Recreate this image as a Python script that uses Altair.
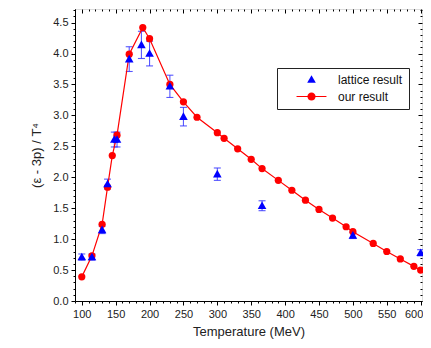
import altair as alt
import pandas as pd

# ---- data ----
red_T = [100, 115, 130, 138, 145, 152, 170, 190, 200, 230, 250, 270, 300, 310, 330,
         350, 366, 390, 410, 430, 450, 470, 490, 500, 530, 550, 570, 590, 600]
red_v = [0.39, 0.73, 1.24, 1.84, 2.35, 2.68, 3.99, 4.42, 4.24, 3.50, 3.22, 2.97, 2.72, 2.63, 2.46,
         2.29, 2.14, 1.95, 1.79, 1.63, 1.48, 1.34, 1.20, 1.12, 0.93, 0.80, 0.68, 0.56, 0.50]

lat_T = [100, 115, 130, 138, 148, 152, 170, 188, 200, 230, 250, 300, 366, 500, 600]
lat_v = [0.71, 0.71, 1.15, 1.89, 2.61, 2.61, 3.91, 4.14, 4.00, 3.47, 2.98, 2.05, 1.54, 1.06, 0.78]
lat_err = [0.05, 0.05, 0.06, 0.08, 0.12, 0.12, 0.20, 0.22, 0.20, 0.18, 0.15, 0.10, 0.08, 0.05, 0.05]

series_names = ["lattice result", "our result"]
series_colors = ["#0000ff", "#ff0000"]

x_ticks = list(range(90, 603, 10))          # minor every 10, labelled every 50
y_ticks = [round(i * 0.1, 1) for i in range(48)]  # minor every 0.1, labelled every 0.5

# ---- tables ----
lat = pd.DataFrame({
    "T": lat_T,
    "v": lat_v,
    "lo": [v - e for v, e in zip(lat_v, lat_err)],
    "hi": [v + e for v, e in zip(lat_v, lat_err)],
    "series": series_names[0],
})
red = pd.DataFrame({"T": red_T, "v": red_v, "series": series_names[1]})

xs = alt.Scale(domain=[90, 602], nice=False, zero=False)
ys = alt.Scale(domain=[0, 4.72], nice=False, zero=False)

XMAJ = "datum.value % 50 === 0"
YMAJ = "round(datum.value * 10) % 5 === 0"

LBL = dict(labelFont="Liberation Sans", labelFontSize=11, labelColor="#222222",
           titleFont="Liberation Sans", titleFontSize=13, titleFontWeight="normal",
           titleColor="#222222", domainColor="black", tickColor="black", grid=False,
           labelOverlap=False)

ax_bottom = alt.Axis(orient="bottom", values=x_ticks,
                     tickSize={"condition": {"test": XMAJ, "value": 4}, "value": 2},
                     labelExpr=f"{XMAJ} ? format(datum.value, 'd') : ''",
                     labelOffset={"condition": {"test": "datum.value === 600", "value": -7},
                                  "value": 0},
                     labelPadding=3, titlePadding=6, labelFlush=False, **LBL)
ax_left = alt.Axis(orient="left", values=y_ticks,
                   tickSize={"condition": {"test": YMAJ, "value": 4}, "value": 2},
                   labelExpr=f"{YMAJ} ? format(datum.value, '.1f') : ''",
                   labelPadding=3, titlePadding=9, **LBL)
ax_top = alt.Axis(orient="top", values=x_ticks,
                  tickSize={"condition": {"test": XMAJ, "value": -4}, "value": -2},
                  labels=False, domain=False, **LBL)
ax_right = alt.Axis(orient="right", values=y_ticks,
                    tickSize={"condition": {"test": YMAJ, "value": -4}, "value": -2},
                    labels=False, domain=False, **LBL)

# custom legend / marker shapes (unit coordinates)
TRI = "M0,-0.21 L0.21,0.16 L-0.21,0.16 Z"
LINECIRC = ("M-0.73,-0.03 L0.73,-0.03 L0.73,0.03 L-0.73,0.03 Z "
            "M0.2,0 A0.2,0.2 0 1,1 -0.2,0 A0.2,0.2 0 1,1 0.2,0 Z")
SYM = 1681

err_color = "#3a3aff"

rules = alt.Chart(lat).mark_rule(color=err_color, strokeWidth=1.1, opacity=0.85).encode(
    x=alt.X("T:Q", scale=xs, axis=ax_bottom, title="Temperature (MeV)"),
    y=alt.Y("lo:Q", scale=ys, axis=ax_left, title="(ε - 3p) / T⁴"),
    y2="hi:Q",
)
cap_lo = alt.Chart(lat).mark_tick(color=err_color, orient="horizontal", size=7,
                                  thickness=1.1, opacity=0.85).encode(
    x=alt.X("T:Q", scale=xs, axis=ax_top, title=None),
    y=alt.Y("lo:Q", scale=ys, axis=ax_right, title=None),
)
cap_hi = alt.Chart(lat).mark_tick(color=err_color, orient="horizontal", size=7,
                                  thickness=1.1, opacity=0.85).encode(
    x=alt.X("T:Q", scale=xs, axis=None),
    y=alt.Y("hi:Q", scale=ys, axis=None),
)
line = alt.Chart(red).mark_line(color="#ff0000", strokeWidth=1.2).encode(
    x=alt.X("T:Q", scale=xs, axis=None),
    y=alt.Y("v:Q", scale=ys, axis=None),
)
dots = alt.Chart(red).mark_circle(color="#ff0000", size=52, opacity=1).encode(
    x=alt.X("T:Q", scale=xs, axis=None),
    y=alt.Y("v:Q", scale=ys, axis=None),
)
leg = alt.Legend(orient="none", legendX=202, legendY=59, title=None,
                 symbolSize=SYM, symbolOffset=8, labelOffset=6,
                 clipHeight=11, rowPadding=4, padding=6,
                 strokeColor="#222222", fillColor="white",
                 labelFont="Liberation Sans", labelFontSize=12,
                 labelColor="#111111", symbolStrokeWidth=0)
tris = alt.Chart(lat).mark_point(filled=True, size=SYM, opacity=1, strokeWidth=0).encode(
    x=alt.X("T:Q", scale=xs, axis=None),
    y=alt.Y("v:Q", scale=ys, axis=None),
    color=alt.Color("series:N", scale=alt.Scale(domain=series_names, range=series_colors),
                    legend=leg),
    shape=alt.Shape("series:N", scale=alt.Scale(domain=series_names, range=[TRI, LINECIRC]),
                    legend=leg),
)

chart = alt.layer(rules, cap_lo, cap_hi, line, dots, tris).resolve_scale(
    x="independent", y="independent"
).resolve_axis(
    x="independent", y="independent"
).properties(
    width=347, height=292,
    autosize=alt.AutoSizeParams(type="none"),
    padding={"left": 67, "top": 1, "right": 1, "bottom": 38},
).configure_view(stroke="black", strokeWidth=1.3).configure(background="white")

chart.save("out.html", embed_options={"renderer": "svg", "actions": False})
